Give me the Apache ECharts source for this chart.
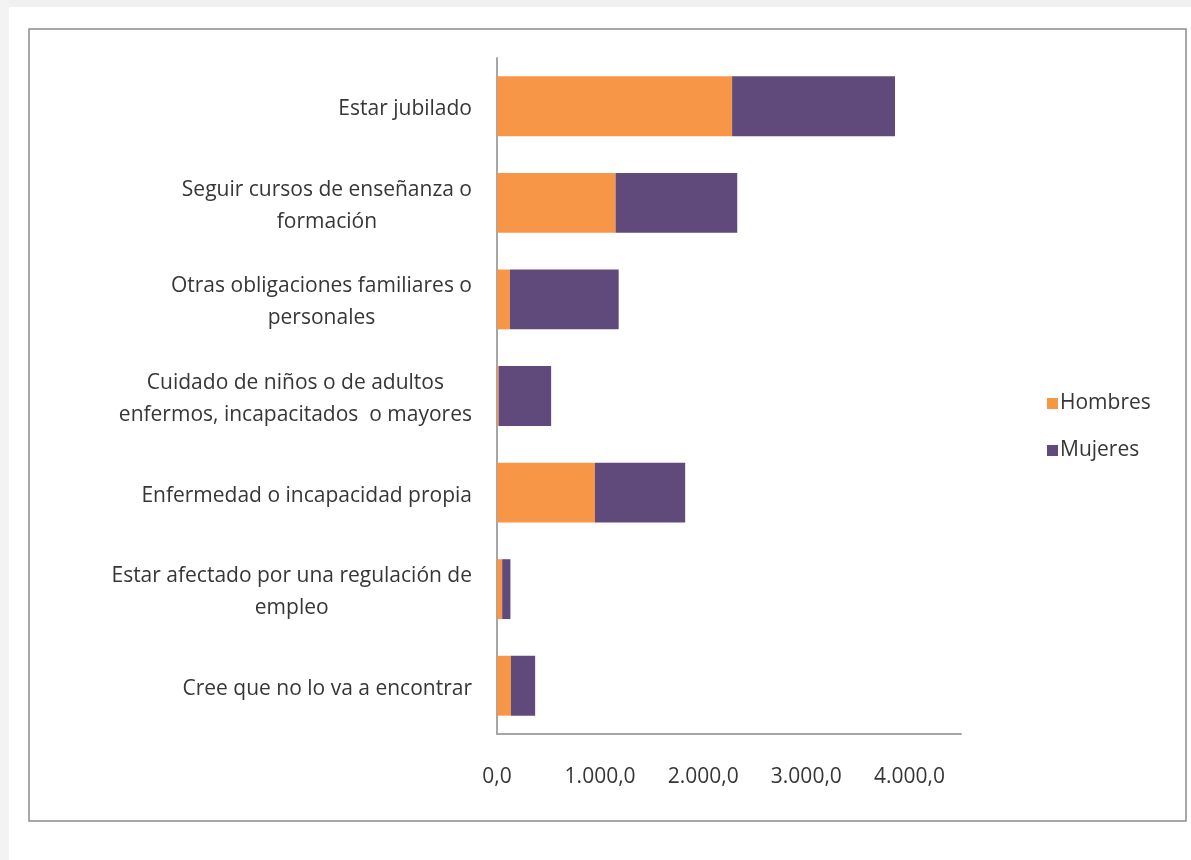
<!DOCTYPE html>
<html>
<head>
<meta charset="utf-8">
<script src="https://cdn.jsdelivr.net/npm/echarts@6/dist/echarts.min.js"></script>
<style>
html,body{margin:0;padding:0;background:#fff;}
#chart{width:1191px;height:860px;}
</style>
</head>
<body>
<div id="chart"></div>
<script>
const categories = [
  "Estar jubilado",
  "Seguir cursos de enseñanza o\nformación",
  "Otras obligaciones familiares o\npersonales",
  "Cuidado de niños o de adultos\nenfermos, incapacitados  o mayores",
  "Enfermedad o incapacidad propia",
  "Estar afectado por una regulación de\nempleo",
  "Cree que no lo va a encontrar"
];
const hombres = [2280, 1150, 125, 15, 950, 50, 135];
const mujeres = [1580, 1180, 1055, 510, 875, 80, 235];
const seriesNames = ["Hombres", "Mujeres"];

const FONT = "'Open Sans', 'Noto Sans', sans-serif";
const TXT = '#363636';
const FS = 21;

function fmt(v) {
  const s = Math.round(v).toString().replace(/\B(?=(\d{3})+(?!\d))/g, '.');
  return s + ',0';
}

const chart = echarts.init(document.getElementById('chart'), null, {renderer: 'canvas'});
chart.setOption({
  backgroundColor: '#ffffff',
  animation: false,
  graphic: [
    {type: 'rect', shape: {x: 0, y: 0, width: 1191, height: 7}, style: {fill: '#f0f0f0'}, silent: true, z: -10},
    {type: 'rect', shape: {x: 0, y: 0, width: 9, height: 860}, style: {fill: '#f3f3f3'}, silent: true, z: -10},
    {type: 'rect', shape: {x: 29, y: 29, width: 1157, height: 792}, style: {fill: 'none', stroke: '#8c8c8c', lineWidth: 1.5}, silent: true, z: -5}
  ],
  grid: {left: 497, right: 230, top: 58, bottom: 126, containLabel: false},
  legend: {
    orient: 'vertical',
    left: 1042,
    top: 388,
    itemWidth: 11,
    itemHeight: 11,
    itemGap: 26,
    icon: 'rect',
    textStyle: {fontFamily: FONT, fontSize: FS, color: TXT, padding: [0, 0, 0, -3]},
    data: seriesNames
  },
  xAxis: {
    type: 'value',
    min: 0,
    max: 4500,
    interval: 1000,
    splitLine: {show: false},
    axisTick: {show: false},
    axisLine: {show: true, lineStyle: {color: '#a6a6a6', width: 2}},
    axisLabel: {
      showMaxLabel: false,
      margin: 33,
      fontFamily: FONT,
      fontSize: FS,
      color: TXT,
      formatter: fmt
    }
  },
  yAxis: {
    type: 'category',
    inverse: true,
    data: categories,
    axisTick: {show: false},
    axisLine: {show: true, lineStyle: {color: '#a6a6a6', width: 2}},
    axisLabel: {
      margin: 25,
      fontFamily: FONT,
      fontSize: FS,
      color: TXT,
      lineHeight: 32,
      padding: [6, 0, 0, 0],
      formatter: function (v) {
        return v.split('\n').map(l => '{c|' + l + '}').join('\n');
      },
      rich: {
        c: {align: 'center', fontFamily: FONT, fontSize: FS, color: TXT, lineHeight: 32}
      }
    }
  },
  series: [
    {name: seriesNames[0], type: 'bar', stack: 'total', data: hombres, barCategoryGap: '38%', itemStyle: {color: '#F79646'}},
    {name: seriesNames[1], type: 'bar', stack: 'total', data: mujeres, barCategoryGap: '38%', itemStyle: {color: '#604A7B'}}
  ]
});
</script>
</body>
</html>
